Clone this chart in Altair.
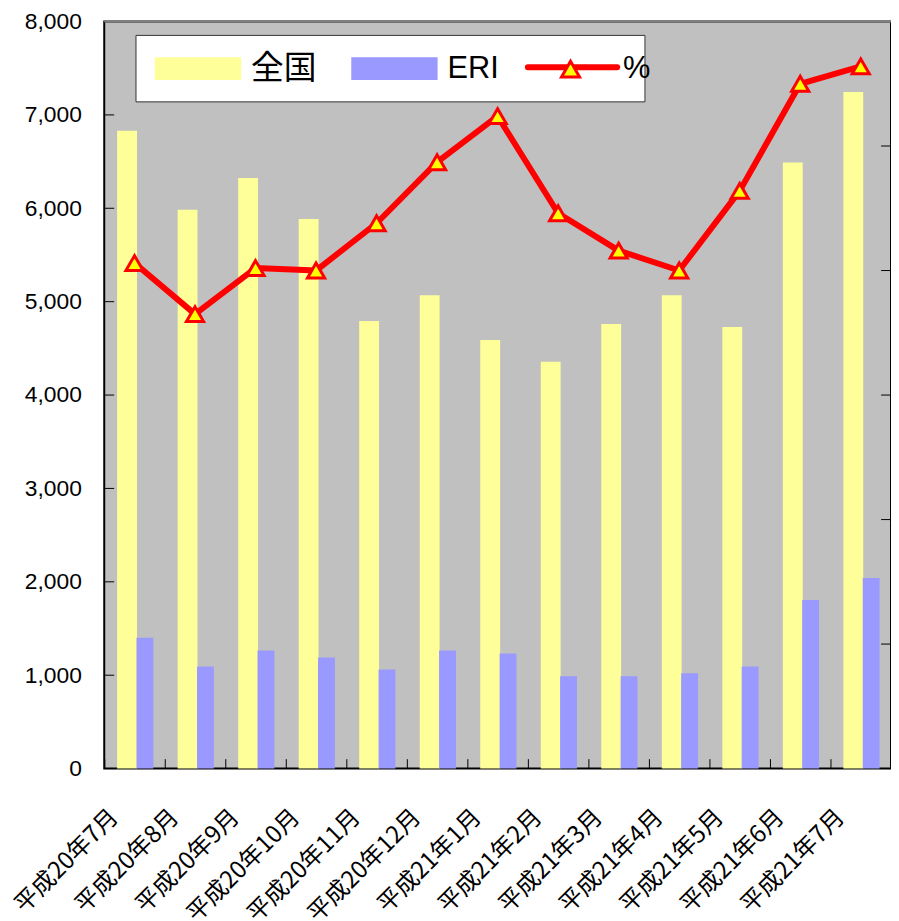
import altair as alt
import pandas as pd

months = ["平成20年7月", "平成20年8月", "平成20年9月", "平成20年10月", "平成20年11月",
          "平成20年12月", "平成21年1月", "平成21年2月", "平成21年3月", "平成21年4月",
          "平成21年5月", "平成21年6月", "平成21年7月"]
zenkoku = [6831, 5985, 6323, 5886, 4792, 5068, 4590, 4356, 4760, 5068, 4728, 6491, 7246]
eri = [1402, 1094, 1264, 1190, 1062, 1264, 1232, 988, 988, 1020, 1094, 1806, 2040]
pct = [20.3, 18.25, 20.1, 20.0, 21.9, 24.35, 26.2, 22.3, 20.8, 20.0, 23.2, 27.5, 28.2]
left_ticks = [0, 1000, 2000, 3000, 4000, 5000, 6000, 7000, 8000]
right_ticks = [0, 5, 10, 15, 20, 25, 30]
legend_labels = ["全国", "ERI", "%"]

LEFT_MAX, RIGHT_MAX = 8000, 30
W, H = 793, 753
YELLOW, BLUE, RED, MARK = "#FFFF99", "#9999FF", "#FF0000", "#FFFF00"

df = pd.DataFrame({"month": months, "zenkoku": zenkoku, "eri": eri, "pct": pct})
y_scale = alt.Scale(domain=[0, LEFT_MAX], nice=False)

x_enc = alt.X("month:N", sort=months, title=None,
              scale=alt.Scale(paddingInner=0, paddingOuter=0),
              axis=alt.Axis(bandPosition=0, offset=-10, tickSize=10, domain=False,
                            tickColor="black", labelAngle=-45, labelAlign="right",
                            labelBaseline="middle", labelOffset=-20, labelPadding=45,
                            labelFontSize=24, labelFont="Noto Sans CJK JP",
                            labelColor="black", labelOverlap=False, grid=False))

left_axis = alt.Axis(values=left_ticks, format=",d", ticks=False, domain=False,
                     grid=False, labelPadding=23, labelFontSize=23,
                     labelFont="Liberation Sans", labelColor="black")


def y_enc(field):
    return alt.Y(field, scale=y_scale, axis=left_axis, title=None)


base = alt.Chart(df)
bar1 = base.mark_bar(width=20, xOffset=-7.5, color=YELLOW).encode(
    x=x_enc, y=y_enc("zenkoku:Q"))
bar2 = base.mark_bar(width=17, xOffset=10.5, color=BLUE).encode(
    x=x_enc, y=y_enc("eri:Q"))

# percentage series on the (unlabelled) right axis 0-30 %
pct_base = base.transform_calculate(pct_pos=f"datum.pct * {LEFT_MAX} / {RIGHT_MAX}")
line = pct_base.mark_line(color=RED, strokeWidth=6, strokeJoin="round").encode(
    x=x_enc, y=y_enc("pct_pos:Q"))
pts = pct_base.mark_point(shape="triangle-up", filled=True, fill=MARK, stroke=RED,
                          strokeWidth=3, size=300, opacity=1).encode(
    x=x_enc, y=y_enc("pct_pos:Q"))

# inward ticks
lt = alt.Chart(pd.DataFrame({"v": left_ticks})).mark_rule(color="black", strokeWidth=1).encode(
    y=y_enc("v:Q"), x=alt.value(0), x2=alt.value(10))
rt = alt.Chart(pd.DataFrame({"v": right_ticks})).transform_calculate(
    vp=f"datum.v * {LEFT_MAX} / {RIGHT_MAX}"
).mark_rule(color="black", strokeWidth=1).encode(
    y=y_enc("vp:Q"), x=alt.value(W - 10), x2=alt.value(W))

one = alt.Data(values=[{}])
top_border = alt.Chart(one).mark_rule(color="#808080", strokeWidth=2).encode(
    x=alt.value(0), x2=alt.value(W), y=alt.value(0))
box = alt.Chart(one).mark_rect(fill="white", stroke="#333333", strokeWidth=1).encode(
    x=alt.value(32), x2=alt.value(545), y=alt.value(14), y2=alt.value(81))
sw1 = alt.Chart(one).mark_rect(color=YELLOW).encode(
    x=alt.value(51), x2=alt.value(138), y=alt.value(36), y2=alt.value(59))
sw2 = alt.Chart(one).mark_rect(color=BLUE).encode(
    x=alt.value(249), x2=alt.value(336), y=alt.value(36), y2=alt.value(59))
t1 = alt.Chart(one).mark_text(font="Noto Sans CJK JP", fontSize=33, align="left",
                              baseline="middle", color="black").encode(
    x=alt.value(148), y=alt.value(48), text=alt.value(legend_labels[0]))
t2 = alt.Chart(one).mark_text(font="Liberation Sans", fontSize=31, align="left",
                              baseline="middle", color="black").encode(
    x=alt.value(346), y=alt.value(48), text=alt.value(legend_labels[1]))
lg_line = alt.Chart(one).mark_rule(color=RED, strokeWidth=6, strokeCap="round").encode(
    x=alt.value(427), x2=alt.value(517), y=alt.value(46))
lg_pt = alt.Chart(one).mark_point(shape="triangle-up", filled=True, fill=MARK, stroke=RED,
                                  strokeWidth=3, size=330, opacity=1).encode(
    x=alt.value(470), y=alt.value(48))
t3 = alt.Chart(one).mark_text(font="Liberation Sans", fontSize=31, align="left",
                              baseline="middle", color="black").encode(
    x=alt.value(523), y=alt.value(48), text=alt.value(legend_labels[2]))

chart = alt.layer(bar1, bar2, line, pts, lt, rt, top_border, box, sw1, sw2, t1, t2,
                  lg_line, lg_pt, t3).properties(
    width=W, height=H,
    autosize=alt.AutoSizeParams(type="none"),
    padding={"left": 97, "top": 10, "right": 0, "bottom": 150},
    background="white",
).configure_view(fill="#C0C0C0", stroke="black", strokeWidth=2)

chart.save("out.html", embed_options={"renderer": "svg", "actions": False})
